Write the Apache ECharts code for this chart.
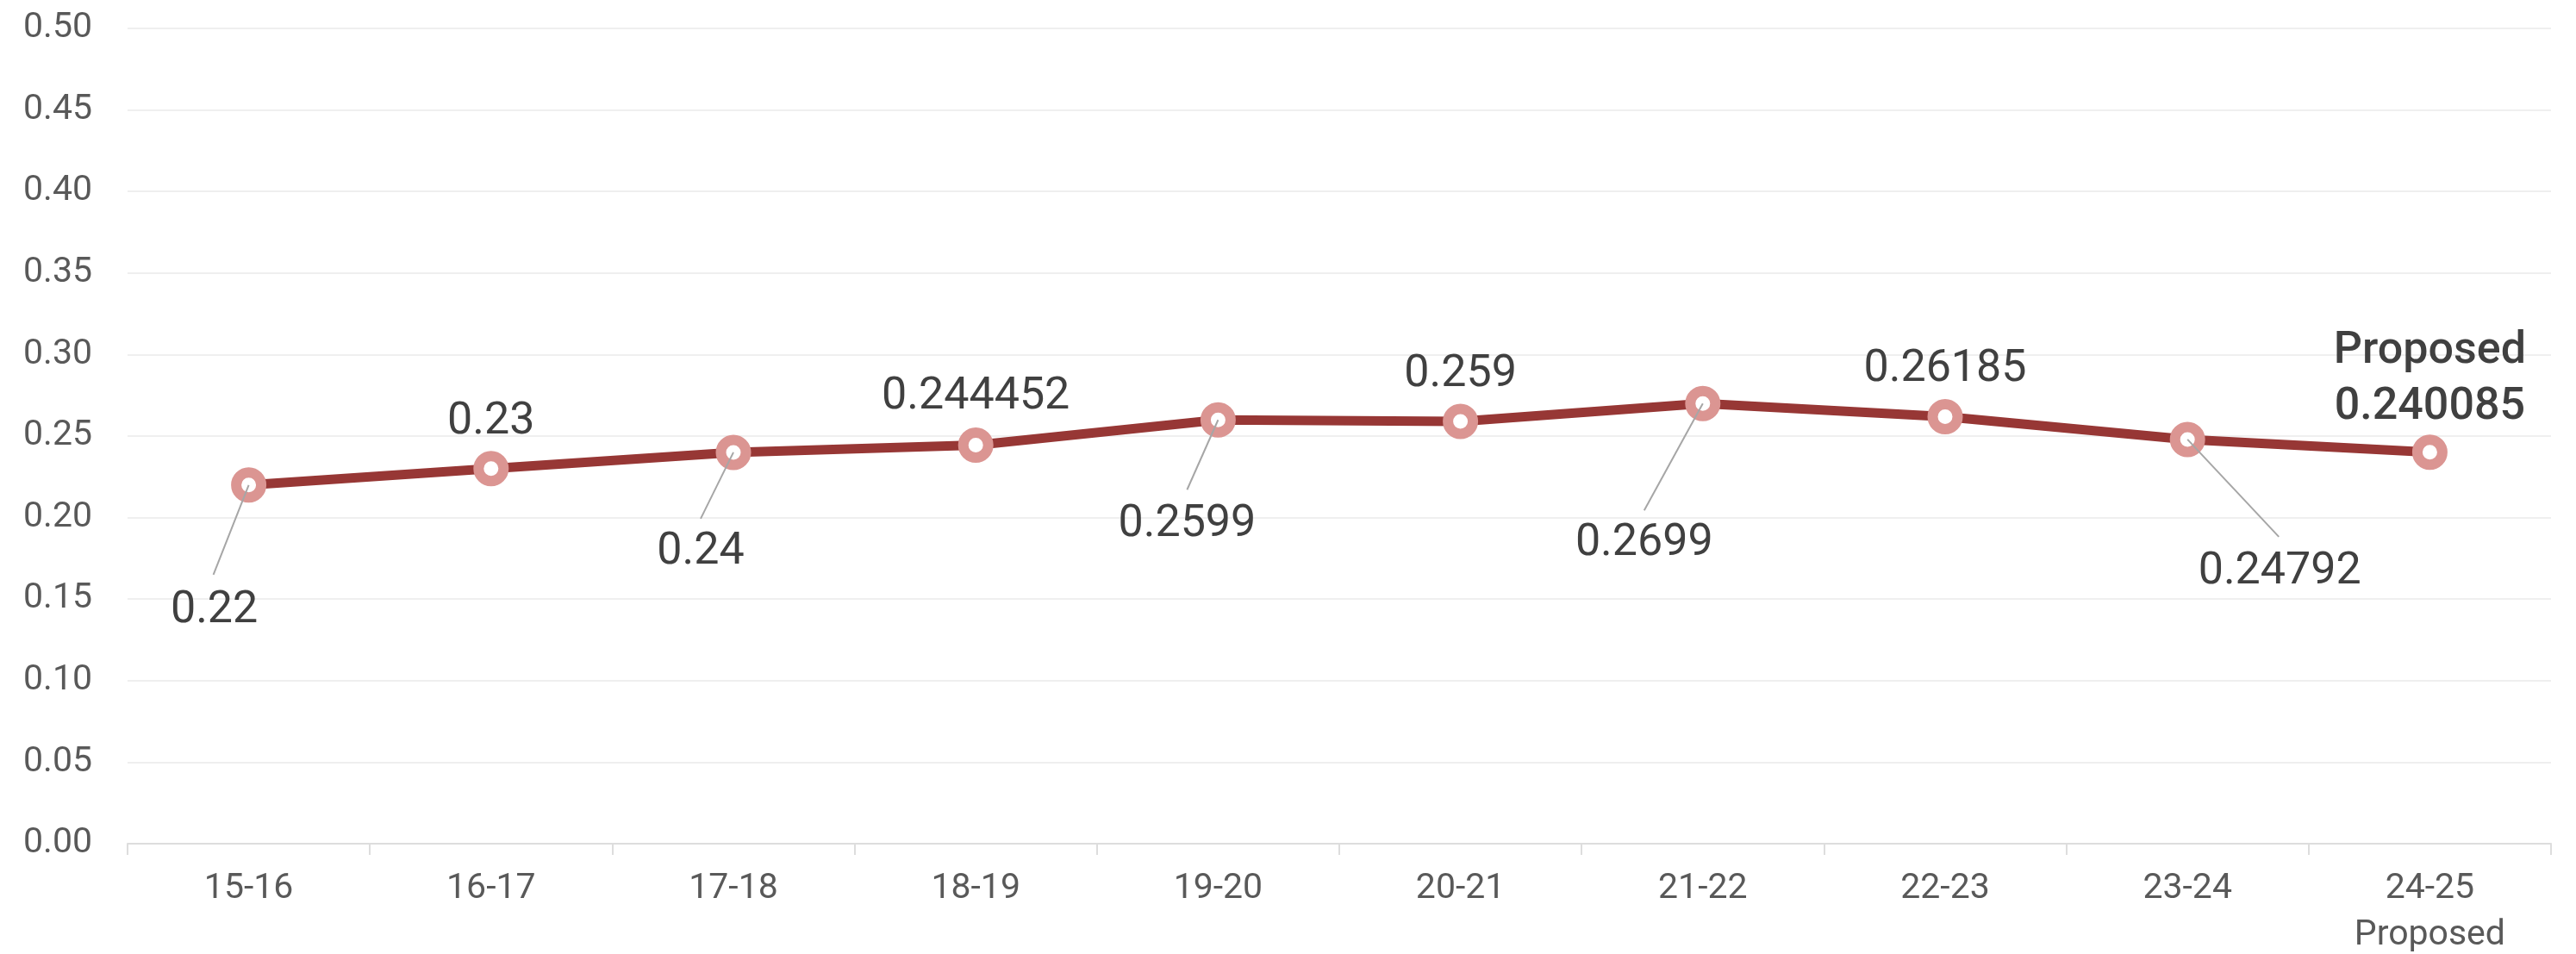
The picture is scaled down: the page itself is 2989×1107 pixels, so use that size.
<!DOCTYPE html>
<html>
<head>
<meta charset="utf-8">
<title>Proposed rate</title>
<script src="https://cdn.jsdelivr.net/npm/echarts@6/dist/echarts.min.js"></script>
<style>
  html, body { margin: 0; padding: 0; background: #fff; }
  #box { width: 2989px; height: 1107px; }
</style>
</head>
<body>
<div id="box"></div>
<script>
// categories and values
var years = ['15-16', '16-17', '17-18', '18-19', '19-20', '20-21', '21-22', '22-23', '23-24', '24-25\nProposed'];
var rates = [0.22, 0.23, 0.24, 0.244452, 0.2599, 0.259, 0.2699, 0.26185, 0.24792, 0.240085];
var pointLabels = ['0.22', '0.23', '0.24', '0.244452', '0.2599', '0.259', '0.2699', '0.26185', '0.24792', 'Proposed\n0.240085'];
var yTicks = { min: 0, max: 0.5, step: 0.05 };

// where each value label sits, relative to its marker (px)
var labelShift = [[-40, 146], [0, -54], [-38, 116], [0, -55], [-36, 122], [0, -54], [-68, 163], [0, -55], [107, 154], [0, -84]];
// end of the thin leader line, relative to its marker (null = no leader)
var leaderEnd = [[-41, 104], null, [-38, 77], null, [-36, 81], null, [-68, 124], null, [106, 113], null];

var chart = echarts.init(document.getElementById('box'));

var points = rates.map(function (v, i) {
    var item = { value: v };
    if (i === rates.length - 1) {
        item.label = { fontWeight: 500, lineHeight: 65 };
    }
    return item;
});

var option = {
    animation: false,
    grid: { left: 148, right: 29, top: 33, bottom: 128, outerBoundsMode: 'none', containLabel: false },
    xAxis: {
        type: 'category',
        data: years,
        axisLine: { lineStyle: { color: '#dddddd', width: 2 } },
        axisTick: { show: true, length: 13, lineStyle: { color: '#dddddd', width: 2 } },
        axisLabel: {
            color: '#595959', fontSize: 41, fontFamily: 'Roboto',
            margin: 26, lineHeight: 54, interval: 0
        }
    },
    yAxis: {
        type: 'value',
        min: yTicks.min, max: yTicks.max, interval: yTicks.step,
        axisLine: { show: false },
        axisTick: { show: false },
        splitLine: { lineStyle: { color: '#efefef', width: 2 } },
        axisLabel: {
            color: '#595959', fontSize: 41, fontFamily: 'Roboto', margin: 41,
            formatter: function (v) { return v.toFixed(2); }
        }
    },
    series: [{
        type: 'line',
        data: points,
        z: 2,
        lineStyle: { color: '#973735', width: 11 },
        symbol: 'circle',
        symbolSize: 29,
        itemStyle: { color: '#ffffff', borderColor: '#db9592', borderWidth: 12 },
        label: {
            show: true,
            position: 'inside',
            color: '#404040',
            fontSize: 52,
            fontFamily: 'Roboto',
            formatter: function (p) { return pointLabels[p.dataIndex]; }
        },
        labelLayout: function (p) {
            return { dx: labelShift[p.dataIndex][0], dy: labelShift[p.dataIndex][1] };
        }
    }, {
        // leader lines from markers to the labels placed below
        type: 'custom',
        z: 5,
        silent: true,
        data: rates.map(function (v, i) { return [i, v]; }),
        renderItem: function (params, api) {
            var end = leaderEnd[params.dataIndex];
            if (!end) return null;
            var p = api.coord([api.value(0), api.value(1)]);
            return {
                type: 'line',
                shape: { x1: p[0], y1: p[1], x2: p[0] + end[0], y2: p[1] + end[1] },
                style: { stroke: '#a6a6a6', lineWidth: 2 }
            };
        }
    }]
};

chart.setOption(option);
</script>
</body>
</html>
